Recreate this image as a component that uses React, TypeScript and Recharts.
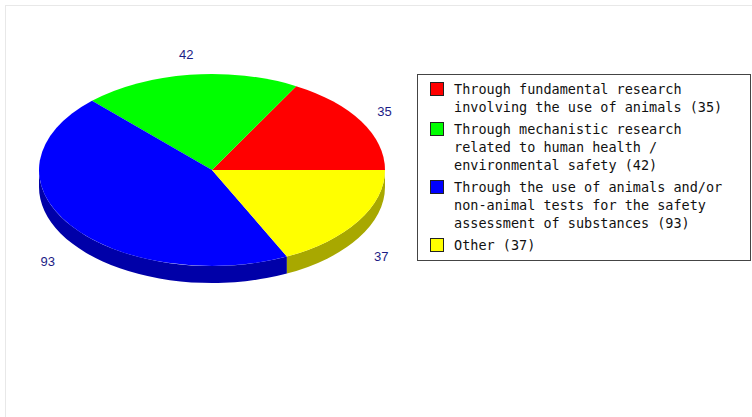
import { PieChart, Pie, Legend } from 'recharts';

const categories = [
  'Through fundamental research involving the use of animals',
  'Through mechanistic research related to human health / environmental safety',
  'Through the use of animals and/or non-animal tests for the safety assessment of substances',
  'Other',
];
const counts = [35, 42, 93, 37];
const colors = ['#ff0000', '#00ff00', '#0000ff', '#ffff00'];
const sideColors = ['#a80000', '#00a800', '#0000a8', '#a8a800'];

const data = categories.map((name, i) => ({ name, value: counts[i], fill: colors[i], side: sideColors[i] }));

const RAD = Math.PI / 180;
const TILT = 96 / 173;
const DEPTH = 17;

// point on the tilted ellipse, angle in recharts convention (counter-clockwise, 0 = 3 o'clock)
const pt = (cx: number, cy: number, rx: number, ry: number, a: number, dy = 0) =>
  `${cx + rx * Math.cos(a * RAD)},${cy - ry * Math.sin(a * RAD) + dy}`;

function Slice3D(props: any) {
  const { cx, cy, outerRadius, startAngle, endAngle, payload } = props;
  const rx = outerRadius;
  const ry = outerRadius * TILT;
  const a0 = Math.min(startAngle, endAngle);
  const a1 = Math.max(startAngle, endAngle);
  const large = a1 - a0 > 180 ? 1 : 0;
  const top = `M${cx},${cy} L${pt(cx, cy, rx, ry, a0)} A${rx},${ry} 0 ${large} 0 ${pt(cx, cy, rx, ry, a1)} Z`;

  // visible side wall only on the front (lower) half
  const s = Math.max(a0, 180);
  const e = Math.min(a1, 360);
  const side =
    s < e
      ? `M${pt(cx, cy, rx, ry, s)} A${rx},${ry} 0 0 0 ${pt(cx, cy, rx, ry, e)} L${pt(cx, cy, rx, ry, e, DEPTH)} A${rx},${ry} 0 0 1 ${pt(cx, cy, rx, ry, s, DEPTH)} Z`
      : null;

  return (
    <g>
      {side && <path d={side} fill={payload?.side ?? props.side} stroke="none" />}
      <path d={top} fill={payload?.fill ?? props.fill} stroke="none" />
    </g>
  );
}

const renderLabel = (p: any) => {
  const { cx, cy, midAngle, value } = p;
  const sn = Math.sin(midAngle * RAD);
  const x = cx + 200 * Math.cos(midAngle * RAD);
  const y = cy - 116 * sn + (sn < 0 ? 25 : 0);
  return (
    <text
      x={x}
      y={y}
      textAnchor="middle"
      dominantBaseline="central"
      fill="#1c1c86"
      fontSize={13}
      fontFamily="'Liberation Sans', Arial, sans-serif"
    >
      {value}
    </text>
  );
};

// plain word wrap for the legend entries
function wrap(text: string, max = 34) {
  const lines: string[] = [];
  let cur = '';
  text.split(' ').forEach((w) => {
    if (cur && (cur + ' ' + w).length > max) {
      lines.push(cur);
      cur = w;
    } else {
      cur = cur ? cur + ' ' + w : w;
    }
  });
  if (cur) lines.push(cur);
  return lines;
}

const LegendBox = () => (
  <div
    style={{
      boxSizing: 'border-box',
      width: 334,
      height: 187,
      border: '1px solid #444',
      background: '#fff',
      padding: '5px 0 0 12px',
      fontFamily: "'DejaVu Sans Mono', monospace",
      fontSize: 13.5,
      color: '#111',
      textAlign: 'left',
    }}
  >
    {data.map((d, i) => (
      <div key={i} style={{ display: 'flex', alignItems: 'flex-start', marginBottom: 4 }}>
        <div
          style={{
            boxSizing: 'border-box',
            width: 14,
            height: 14,
            marginTop: 2,
            marginRight: 10,
            flex: '0 0 14px',
            background: d.fill,
            border: '1px solid #222',
          }}
        />
        <div style={{ lineHeight: '18px', whiteSpace: 'pre' }}>
          {wrap(`${d.name} (${d.value})`).map((l, j) => (
            <div key={j}>{l}</div>
          ))}
        </div>
      </div>
    ))}
  </div>
);

export default function App() {
  return (
    <div style={{ position: 'absolute', left: 0, top: 0, width: 752, height: 417, background: '#fff' }}>
      <div
        style={{
          position: 'absolute',
          left: 5,
          top: 5,
          right: 0,
          bottom: 0,
          borderLeft: '1px solid #e8e8e8',
          borderTop: '1px solid #e8e8e8',
        }}
      />
      <PieChart
        width={752}
        height={417}
        margin={{ top: 0, right: 0, bottom: 0, left: 0 }}
        style={{ position: 'absolute', left: 0, top: 0 }}
      >
        <Pie
          data={data}
          dataKey="value"
          nameKey="name"
          cx={212}
          cy={170}
          outerRadius={173}
          startAngle={0}
          endAngle={360}
          stroke="none"
          shape={Slice3D}
          activeShape={Slice3D}
          inactiveShape={Slice3D}
          label={renderLabel}
          labelLine={false}
          isAnimationActive={false}
        />
        <Legend
          content={() => <LegendBox />}
          wrapperStyle={{ position: 'absolute', left: 417, top: 74, width: 334 }}
        />
      </PieChart>
    </div>
  );
}
